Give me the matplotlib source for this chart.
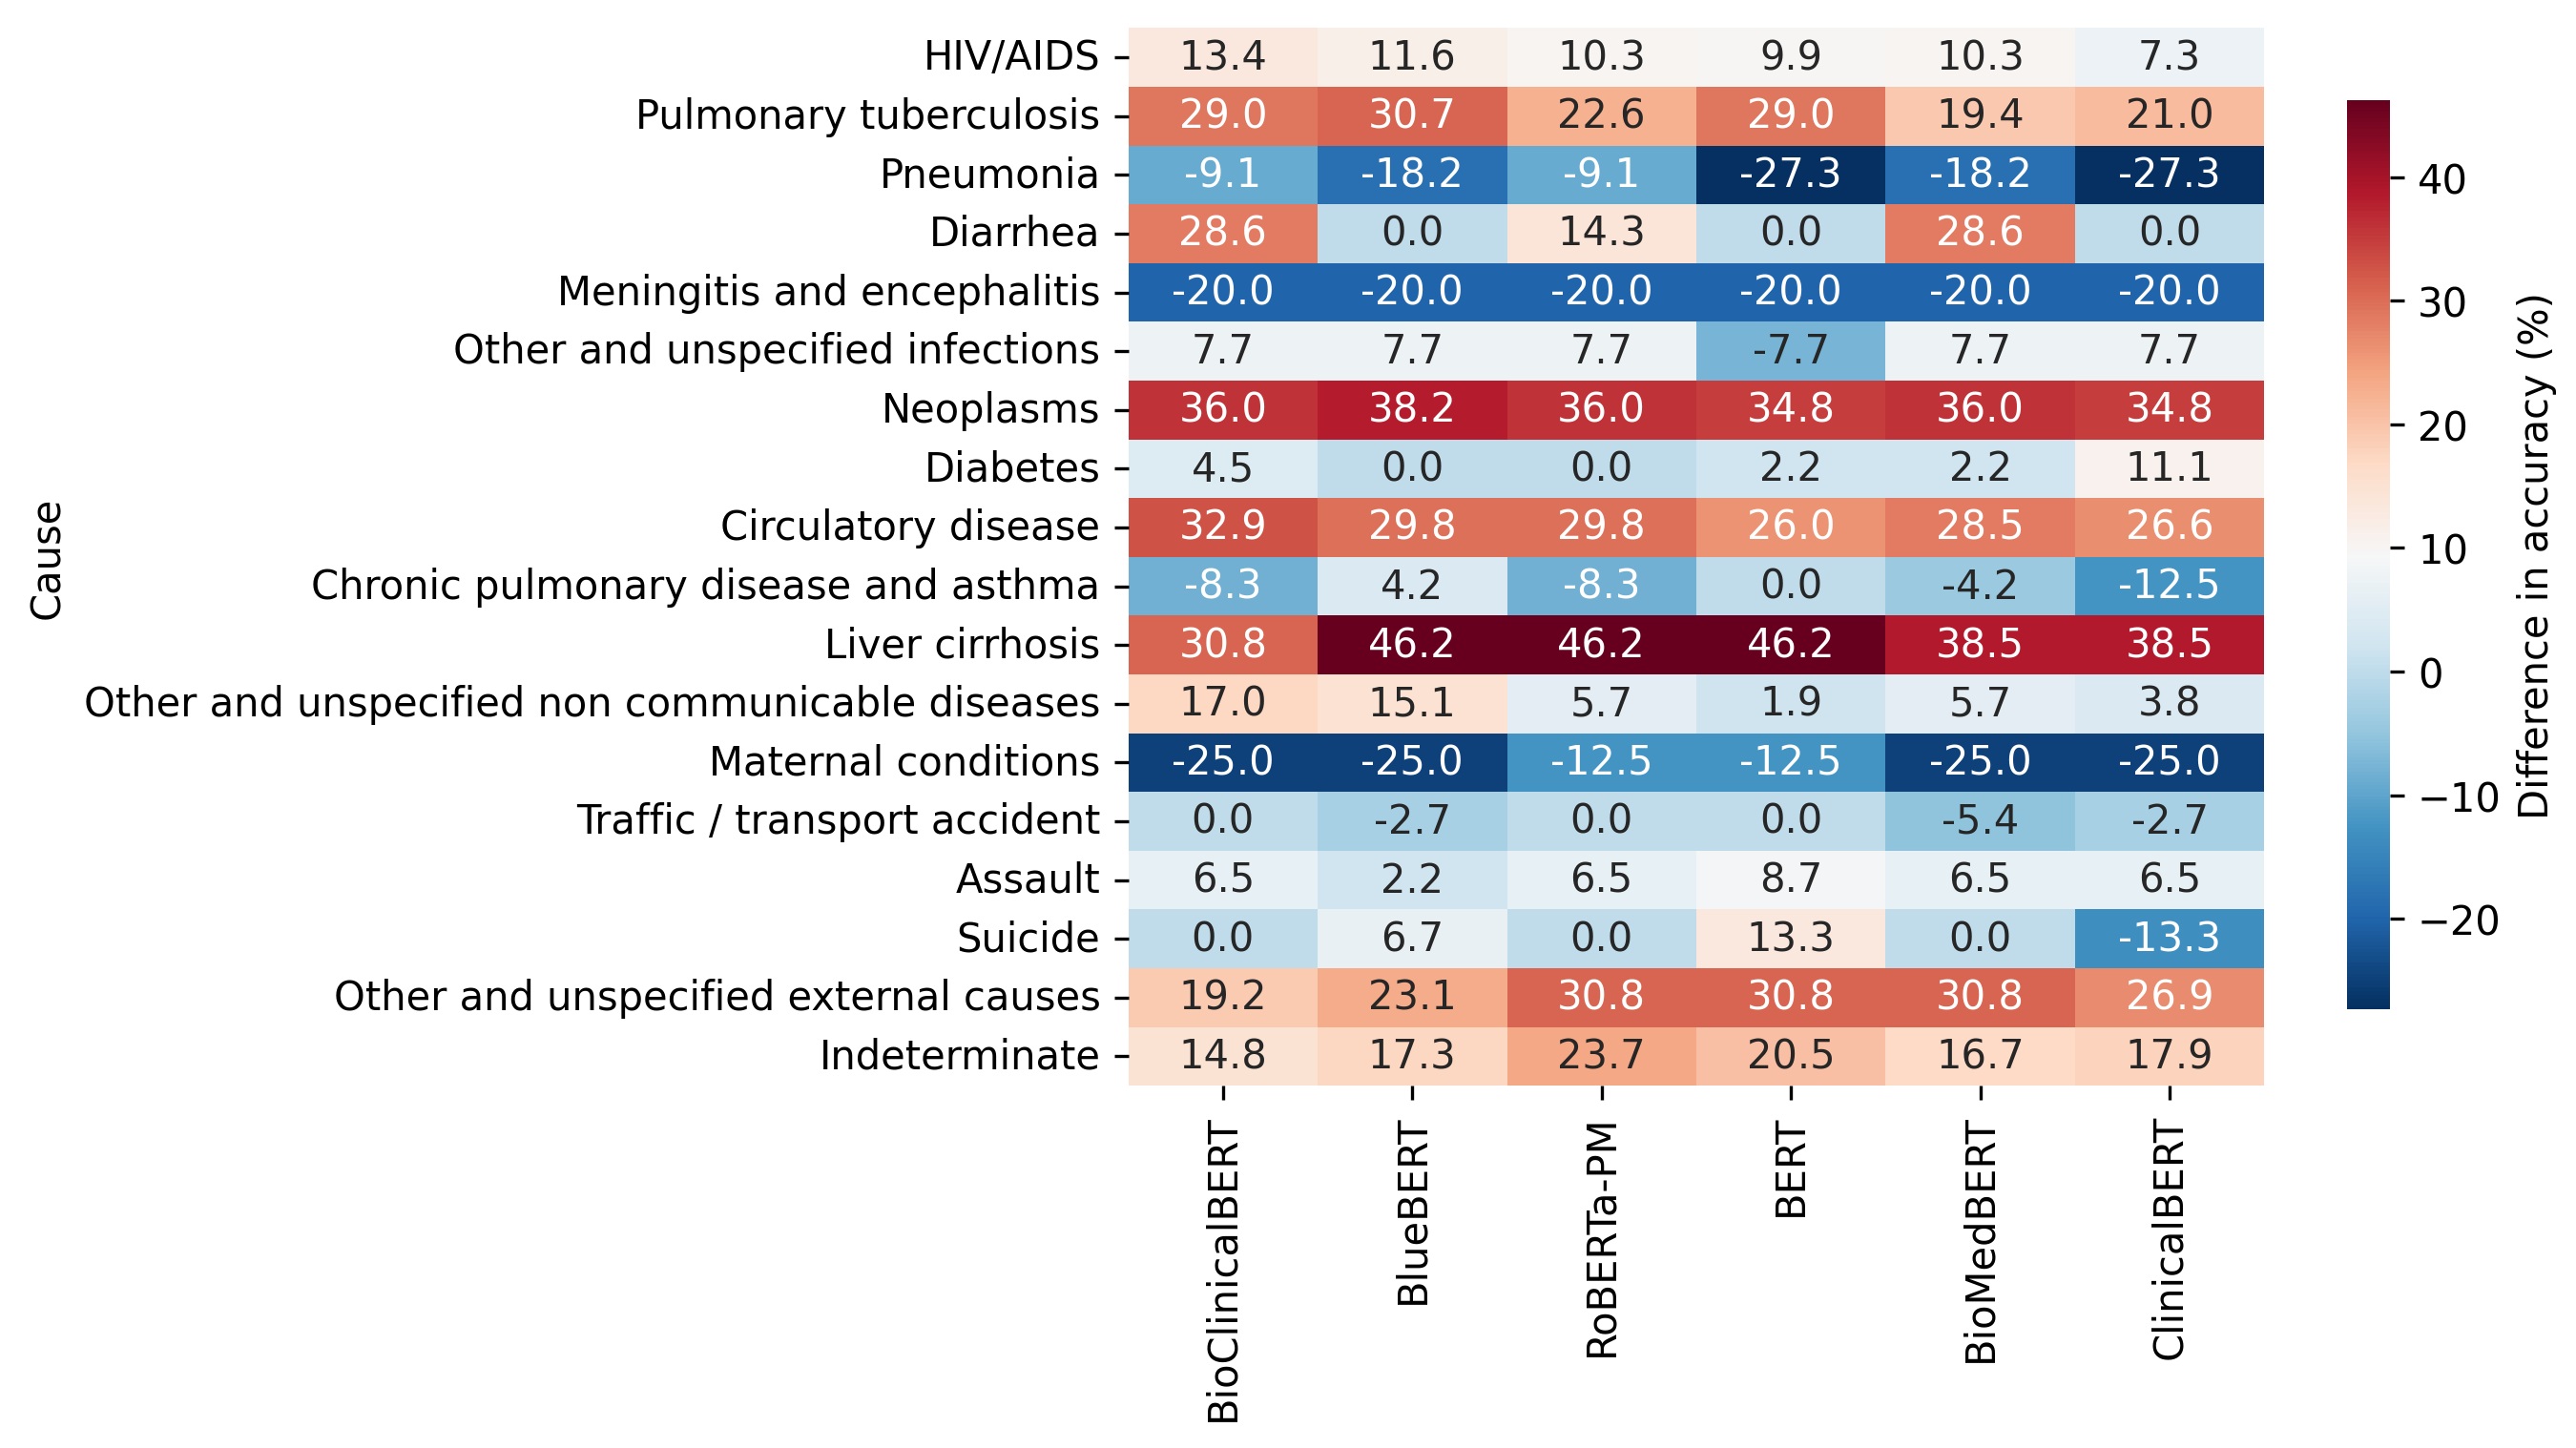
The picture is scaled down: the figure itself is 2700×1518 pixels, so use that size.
import numpy as np
import pandas as pd
import seaborn as sns
from matplotlib import pyplot as plt

causes = ["HIV/AIDS", "Pulmonary tuberculosis", "Pneumonia", "Diarrhea",
          "Meningitis and encephalitis", "Other and unspecified infections",
          "Neoplasms", "Diabetes", "Circulatory disease",
          "Chronic pulmonary disease and asthma", "Liver cirrhosis",
          "Other and unspecified non communicable diseases",
          "Maternal conditions", "Traffic / transport accident", "Assault",
          "Suicide", "Other and unspecified external causes", "Indeterminate"]
models = ["BioClinicalBERT", "BlueBERT", "RoBERTa-PM", "BERT", "BioMedBERT", "ClinicalBERT"]

bioclinicalbert = [13.4, 29.0, -9.1, 28.6, -20.0, 7.7, 36.0, 4.5, 32.9, -8.3, 30.8, 17.0, -25.0, 0.0, 6.5, 0.0, 19.2, 14.8]
bluebert = [11.6, 30.7, -18.2, 0.0, -20.0, 7.7, 38.2, 0.0, 29.8, 4.2, 46.2, 15.1, -25.0, -2.7, 2.2, 6.7, 23.1, 17.3]
roberta_pm = [10.3, 22.6, -9.1, 14.3, -20.0, 7.7, 36.0, 0.0, 29.8, -8.3, 46.2, 5.7, -12.5, 0.0, 6.5, 0.0, 30.8, 23.7]
bert = [9.9, 29.0, -27.3, 0.0, -20.0, -7.7, 34.8, 2.2, 26.0, 0.0, 46.2, 1.9, -12.5, 0.0, 8.7, 13.3, 30.8, 20.5]
biomedbert = [10.3, 19.4, -18.2, 28.6, -20.0, 7.7, 36.0, 2.2, 28.5, -4.2, 38.5, 5.7, -25.0, -5.4, 6.5, 0.0, 30.8, 16.7]
clinicalbert = [7.3, 21.0, -27.3, 0.0, -20.0, 7.7, 34.8, 11.1, 26.6, -12.5, 38.5, 3.8, -25.0, -2.7, 6.5, -13.3, 26.9, 17.9]

df = pd.DataFrame({"BioClinicalBERT": bioclinicalbert, "BlueBERT": bluebert,
                   "RoBERTa-PM": roberta_pm, "BERT": bert,
                   "BioMedBERT": biomedbert, "ClinicalBERT": clinicalbert},
                  index=causes)[models]
df.index.name = "Cause"

fig = plt.figure(figsize=(9, 5.063), dpi=300)
ax = fig.add_axes([0.438, 0.250, 0.441, 0.730])
cax = fig.add_axes([0.911, 0.303, 0.0167, 0.627])

sns.heatmap(df, annot=True, fmt=".1f", cmap="RdBu_r", ax=ax, cbar_ax=cax,
            cbar_kws={"label": "Difference in accuracy (%)"})
ax.set_xlabel("")
ax.set_ylabel("Cause")
plt.setp(ax.get_xticklabels(), rotation=90)
plt.setp(ax.get_yticklabels(), rotation=0)

fig.savefig("out.png", dpi=300)
